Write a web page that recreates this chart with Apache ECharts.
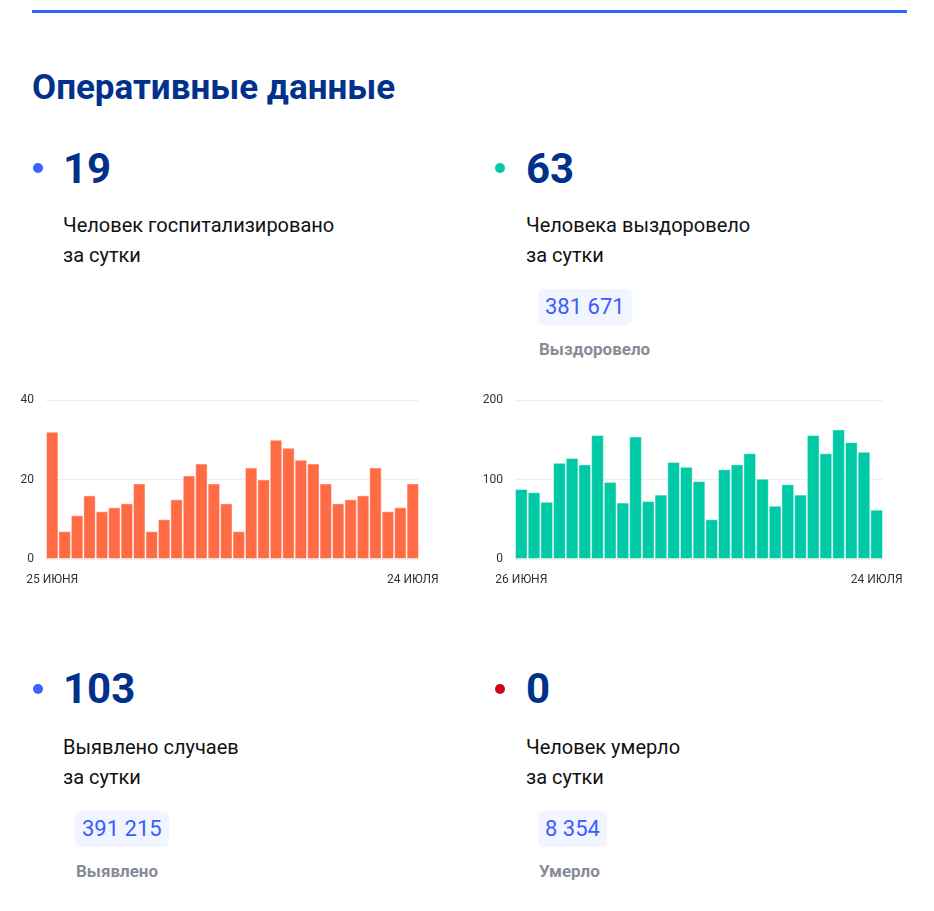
<!DOCTYPE html>
<html lang="ru">
<head>
<meta charset="utf-8">
<title>Оперативные данные</title>
<script src="https://cdn.jsdelivr.net/npm/echarts@6/dist/echarts.min.js"></script>
<style>
  html, body { margin: 0; padding: 0; background: #fff; }
  body { width: 934px; height: 911px; position: relative; overflow: hidden; font-family: Roboto, "Noto Sans", sans-serif; }
  .abs { position: absolute; white-space: nowrap; }
  .topline { left: 32px; top: 10px; width: 875px; height: 3px; background: #3366ff; }
  .title { left: 32px; top: 70px; font-size: 35px; line-height: 35px; font-weight: 700; color: #00318b; }
  .dot { width: 10px; height: 10px; border-radius: 50%; }
  .big { font-size: 42px; line-height: 42px; font-weight: 700; color: #00318b; }
  .desc { font-size: 20px; line-height: 30px; color: #111; }
  .badge { height: 36px; line-height: 36px; padding: 0 7px; font-size: 22px; color: #3d5cff; background: #f0f5ff; border-radius: 6px; }
  .label { font-size: 17px; line-height: 17px; font-weight: 700; color: #878b97; }
  #chart { position: absolute; left: 0; top: 380px; width: 934px; height: 220px; }
</style>
</head>
<body>
<div class="abs topline"></div>
<div class="abs title">Оперативные данные</div>

<div class="abs dot" style="left:33px;top:163px;background:#3d63ff"></div>
<div class="abs big" style="left:63px;top:148px">19</div>
<div class="abs desc" style="left:63px;top:210px">Человек госпитализировано<br>за сутки</div>

<div class="abs dot" style="left:495px;top:163px;background:#00c9a7"></div>
<div class="abs big" style="left:526px;top:148px">63</div>
<div class="abs desc" style="left:526px;top:210px">Человека выздоровело<br>за сутки</div>
<div class="abs badge" style="left:538px;top:289px">381 671</div>
<div class="abs label" style="left:539px;top:341px">Выздоровело</div>

<div id="chart"></div>

<div class="abs dot" style="left:33px;top:684px;background:#3d63ff"></div>
<div class="abs big" style="left:63px;top:668px">103</div>
<div class="abs desc" style="left:63px;top:732px">Выявлено случаев<br>за сутки</div>
<div class="abs badge" style="left:75px;top:811px">391 215</div>
<div class="abs label" style="left:76px;top:863px">Выявлено</div>

<div class="abs dot" style="left:495px;top:684px;background:#d0021b"></div>
<div class="abs big" style="left:526px;top:668px">0</div>
<div class="abs desc" style="left:526px;top:732px">Человек умерло<br>за сутки</div>
<div class="abs badge" style="left:538px;top:811px">8 354</div>
<div class="abs label" style="left:539px;top:863px">Умерло</div>

<script>
// госпитализировано за сутки, 25 июня - 24 июля
const hospDays = [
  '25 ИЮНЯ', '26 ИЮНЯ', '27 ИЮНЯ', '28 ИЮНЯ', '29 ИЮНЯ', '30 ИЮНЯ',
  '1 ИЮЛЯ', '2 ИЮЛЯ', '3 ИЮЛЯ', '4 ИЮЛЯ', '5 ИЮЛЯ', '6 ИЮЛЯ', '7 ИЮЛЯ', '8 ИЮЛЯ',
  '9 ИЮЛЯ', '10 ИЮЛЯ', '11 ИЮЛЯ', '12 ИЮЛЯ', '13 ИЮЛЯ', '14 ИЮЛЯ', '15 ИЮЛЯ', '16 ИЮЛЯ',
  '17 ИЮЛЯ', '18 ИЮЛЯ', '19 ИЮЛЯ', '20 ИЮЛЯ', '21 ИЮЛЯ', '22 ИЮЛЯ', '23 ИЮЛЯ', '24 ИЮЛЯ'
];
const hospValues = [32, 7, 11, 16, 12, 13, 14, 19, 7, 10, 15, 21, 24, 19, 14,
  7, 23, 20, 30, 28, 25, 24, 19, 14, 15, 16, 23, 12, 13, 19];

// выздоровело за сутки, 26 июня - 24 июля
const recDays = [
  '26 ИЮНЯ', '27 ИЮНЯ', '28 ИЮНЯ', '29 ИЮНЯ', '30 ИЮНЯ',
  '1 ИЮЛЯ', '2 ИЮЛЯ', '3 ИЮЛЯ', '4 ИЮЛЯ', '5 ИЮЛЯ', '6 ИЮЛЯ', '7 ИЮЛЯ', '8 ИЮЛЯ',
  '9 ИЮЛЯ', '10 ИЮЛЯ', '11 ИЮЛЯ', '12 ИЮЛЯ', '13 ИЮЛЯ', '14 ИЮЛЯ', '15 ИЮЛЯ', '16 ИЮЛЯ',
  '17 ИЮЛЯ', '18 ИЮЛЯ', '19 ИЮЛЯ', '20 ИЮЛЯ', '21 ИЮЛЯ', '22 ИЮЛЯ', '23 ИЮЛЯ', '24 ИЮЛЯ'
];
const recValues = [88, 84, 72, 121, 127, 119, 156, 97, 71, 154, 73, 81, 122, 116, 98,
  50, 113, 119, 133, 101, 67, 94, 81, 156, 133, 163, 147, 135, 62];

const hospTicks = { max: 40, interval: 20 };
const recTicks = { max: 200, interval: 100 };

const labelFont = { fontFamily: 'Roboto', fontSize: 12, color: '#333' };

function xAxis(gridIndex, days) {
  const last = days.length - 1;
  return {
    type: 'category',
    gridIndex: gridIndex,
    data: days,
    axisLine: { show: false },
    axisTick: { show: false },
    axisLabel: Object.assign({
      margin: 15,
      interval: (i) => i === 0 || i === last
    }, labelFont)
  };
}

function yAxis(gridIndex, ticks) {
  return {
    type: 'value',
    gridIndex: gridIndex,
    min: 0,
    max: ticks.max,
    interval: ticks.interval,
    axisLine: { show: false },
    axisTick: { show: false },
    axisLabel: Object.assign({ margin: 12 }, labelFont),
    splitLine: { lineStyle: { color: '#eeeeee', width: 1 } }
  };
}

function bars(index, values, color) {
  return {
    type: 'bar',
    xAxisIndex: index,
    yAxisIndex: index,
    data: values,
    barCategoryGap: 0,
    silent: true,
    itemStyle: {
      color: color,
      borderColor: 'rgba(255,255,255,0.45)',
      borderWidth: 1
    }
  };
}

const chart = echarts.init(document.getElementById('chart'), null, { renderer: 'canvas' });

chart.setOption({
  animation: false,
  grid: [
    { left: 46, top: 20, width: 373, height: 159 },
    { left: 515, top: 20, width: 368, height: 159 }
  ],
  xAxis: [xAxis(0, hospDays), xAxis(1, recDays)],
  yAxis: [yAxis(0, hospTicks), yAxis(1, recTicks)],
  series: [
    bars(0, hospValues, '#ff6b45'),
    bars(1, recValues, '#00c9a5')
  ]
});
</script>
</body>
</html>
